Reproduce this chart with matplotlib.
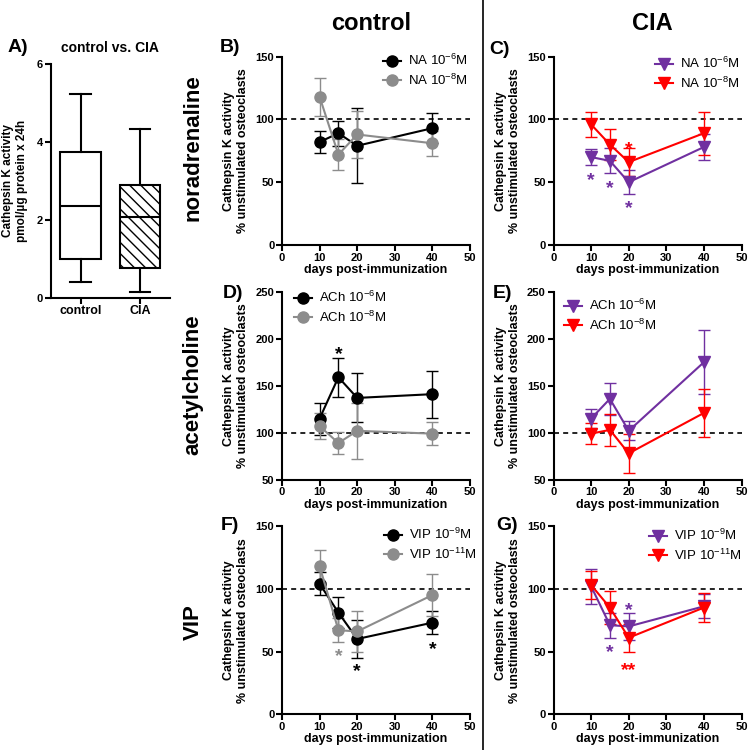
import matplotlib.pyplot as plt
from matplotlib.lines import Line2D
from matplotlib import transforms

plt.rcParams['font.family'] = 'Liberation Sans'
plt.rcParams['font.weight'] = 'bold'
plt.rcParams['axes.labelweight'] = 'bold'
plt.rcParams['mathtext.fontset'] = 'custom'
plt.rcParams['mathtext.rm'] = 'Liberation Sans'
plt.rcParams['mathtext.default'] = 'regular'
plt.rcParams['hatch.linewidth'] = 1.0

W, H = 748, 750
BLACK, GRAY, PURPLE, RED = 'black', '#8c8c8c', '#7030a0', '#ff0000'

days = [10, 15, 20, 40]

# panel A: box plot stats (pmol/ug protein x 24h)
box_groups = ['control', 'CIA']
box_low = [0.41, 0.15]
box_q1 = [1.0, 0.77]
box_med = [2.35, 2.07]
box_q3 = [3.75, 2.89]
box_high = [5.22, 4.34]

# B) noradrenaline, control
na_ctl_6 = [82, 89, 79, 93]
na_ctl_6_err = [9, 10, 30, 12]
na_ctl_8 = [118, 72, 88, 81]
na_ctl_8_err = [15, 12, 19, 10]
# C) noradrenaline, CIA
na_cia_6 = [70, 67, 50, 78]
na_cia_6_err = [6.5, 10, 9.5, 10]
na_cia_8 = [96, 80, 66, 89]
na_cia_8_err = [10, 12.5, 11, 17]
# D) acetylcholine, control
ach_ctl_6 = [115, 159, 137, 141]
ach_ctl_6_err = [17, 21, 26, 25]
ach_ctl_8 = [107, 89, 102, 99]
ach_ctl_8_err = [14, 12, 30, 12.5]
# E) acetylcholine, CIA
ach_cia_6 = [115, 136, 102, 175]
ach_cia_6_err = [10, 17, 10, 34]
ach_cia_8 = [99, 103, 78, 121]
ach_cia_8_err = [11, 17, 21, 26]
# F) VIP, control
vip_ctl_9 = [104, 81, 60, 73]
vip_ctl_9_err = [9, 12.5, 15, 9]
vip_ctl_11 = [118, 67, 66, 95]
vip_ctl_11_err = [13, 9.5, 16, 16.5]
# G) VIP, CIA
vip_cia_9 = [102, 71, 70, 86]
vip_cia_9_err = [14, 10, 10.5, 9.5]
vip_cia_11 = [103, 85, 61, 85]
vip_cia_11_err = [11, 13, 11, 11.5]

# significance marks: (day, level, text, colour)
stars_C = [(10, 56.5, '*', PURPLE), (15, 49.6, '*', PURPLE), (20, 33.7, '*', PURPLE), (20, 81, '*', RED)]
stars_D = [(15, 190, '*', BLACK)]
stars_F = [(15, 51, '*', GRAY), (20, 38.7, '*', BLACK), (40, 56.5, '*', BLACK)]
stars_G = [(15, 54, '*', PURPLE), (20, 87.6, '*', PURPLE), (20, 40, '**', RED)]

fig = plt.figure(figsize=(W / 100, H / 100), dpi=100)


def add_ax(x0, x1, y0, y1):
    # pixel box -> figure fraction
    return fig.add_axes([x0 / W, 1 - y1 / H, (x1 - x0) / W, (y1 - y0) / H])


def style(ax):
    for s in ['top', 'right']:
        ax.spines[s].set_visible(False)
    for s in ['left', 'bottom']:
        ax.spines[s].set_linewidth(1.5)
    ax.tick_params(width=1.5, length=4, labelsize=8, pad=1.5)


def ftext(x, y, s, **kw):
    fig.text(x / W, 1 - y / H, s, ha='center', va='center', **kw)


# ---- panel A
axA = add_ax(50.7, 170, 64, 297.7)
stats = []
for i in range(2):
    stats.append(dict(whislo=box_low[i], q1=box_q1[i], med=box_med[i], q3=box_q3[i],
                      whishi=box_high[i], label=box_groups[i]))
bp = axA.bxp(stats, positions=[0, 1], widths=0.68, patch_artist=True, showfliers=False,
             boxprops=dict(facecolor='white', edgecolor='black', linewidth=1.5),
             medianprops=dict(color='black', linewidth=1.5),
             whiskerprops=dict(linewidth=1.5), capprops=dict(linewidth=1.5))
bp['boxes'][1].set_hatch('\\\\\\')
axA.set_xlim(-0.5, 1.5)
axA.set_ylim(0, 6)
axA.set_yticks([0, 2, 4, 6])
style(axA)
axA.tick_params(axis='x', labelsize=9)
axA.set_ylabel('Cathepsin K activity\npmol/\u00b5g protein x 24h', fontsize=8.5, linespacing=1.2)
axA.yaxis.set_label_coords(-0.19, 0.5)
ftext(110, 48, 'control vs. CIA', fontsize=10)
ftext(18, 48, 'A)', fontsize=14)

# ---- time course panels
panels = [
    dict(box=(282, 470, 56.6, 245), ylim=(0, 150), ticks=[0, 50, 100, 150],
         series=[(na_ctl_6, na_ctl_6_err, 'NA 10$^{-6}$M'), (na_ctl_8, na_ctl_8_err, 'NA 10$^{-8}$M')],
         colors=(BLACK, GRAY), marker='o', leg=(383, 53), stars=[], letter=('B)', 230, 47)),
    dict(box=(553.5, 741.5, 56.6, 245), ylim=(0, 150), ticks=[0, 50, 100, 150],
         series=[(na_cia_6, na_cia_6_err, 'NA 10$^{-6}$M'), (na_cia_8, na_cia_8_err, 'NA 10$^{-8}$M')],
         colors=(PURPLE, RED), marker='v', leg=(655, 56), stars=stars_C, letter=('C)', 500, 50)),
    dict(box=(282, 470, 291.7, 479.7), ylim=(50, 250), ticks=[50, 100, 150, 200, 250],
         series=[(ach_ctl_6, ach_ctl_6_err, 'ACh 10$^{-6}$M'), (ach_ctl_8, ach_ctl_8_err, 'ACh 10$^{-8}$M')],
         colors=(BLACK, GRAY), marker='o', leg=(294, 290), stars=stars_D, letter=('D)', 233, 293)),
    dict(box=(553.5, 741.5, 291.7, 479.7), ylim=(50, 250), ticks=[50, 100, 150, 200, 250],
         series=[(ach_cia_6, ach_cia_6_err, 'ACh 10$^{-6}$M'), (ach_cia_8, ach_cia_8_err, 'ACh 10$^{-8}$M')],
         colors=(PURPLE, RED), marker='v', leg=(564, 298), stars=[], letter=('E)', 503, 293)),
    dict(box=(282, 470, 526, 714.3), ylim=(0, 150), ticks=[0, 50, 100, 150],
         series=[(vip_ctl_9, vip_ctl_9_err, 'VIP 10$^{-9}$M'), (vip_ctl_11, vip_ctl_11_err, 'VIP 10$^{-11}$M')],
         colors=(BLACK, GRAY), marker='o', leg=(384, 527), stars=stars_F, letter=('F)', 230, 525)),
    dict(box=(553.5, 741.5, 526, 714.3), ylim=(0, 150), ticks=[0, 50, 100, 150],
         series=[(vip_cia_9, vip_cia_9_err, 'VIP 10$^{-9}$M'), (vip_cia_11, vip_cia_11_err, 'VIP 10$^{-11}$M')],
         colors=(PURPLE, RED), marker='v', leg=(649, 528), stars=stars_G, letter=('G)', 507, 525)),
]

for p in panels:
    ax = add_ax(*p['box'])
    ax.axhline(100, color='black', ls=(0, (3, 2.5)), lw=1.2, zorder=1)
    handles, labels = [], []
    for (vals, err, lab), c in zip(p['series'], p['colors']):
        ax.errorbar(days, vals, yerr=err, color=c, marker=p['marker'], ms=8, mec=c,
                    lw=1.5, elinewidth=1, capsize=4.5, capthick=1, zorder=3)
        handles.append(Line2D([], [], color=c, marker=p['marker'], ms=8, lw=1.5))
        labels.append(lab)
    ax.set_xlim(0, 50)
    ax.set_xticks([0, 10, 20, 30, 40, 50])
    ax.set_ylim(*p['ylim'])
    ax.set_yticks(p['ticks'])
    style(ax)
    ax.set_xlabel('days post-immunization', fontsize=9, labelpad=1)
    ax.set_ylabel('Cathepsin K activity\n% unstimulated osteoclasts', fontsize=9, linespacing=1.2)
    ax.yaxis.set_label_coords(-0.175, 0.5)
    lx, ly = p['leg']
    ax.legend(handles, labels, loc='upper left', bbox_to_anchor=(lx / W, 1 - ly / H),
              bbox_transform=fig.transFigure, frameon=False, prop={'weight': 'normal', 'size': 9.5},
              handlelength=1.4, handletextpad=0.5, labelspacing=0.35, borderpad=0, borderaxespad=0)
    shift = transforms.offset_copy(ax.transData, fig=fig, y=-4.5, units='points')
    for d, lvl, s, c in p['stars']:
        ax.text(d, lvl, s, color=c, fontsize=14, ha='center', va='center', transform=shift)
    t, x, y = p['letter']
    ftext(x, y, t, fontsize=14)

# column and row headers
ftext(371, 24, 'control', fontsize=17)
ftext(652, 24, 'CIA', fontsize=17)
ftext(193, 148, 'noradrenaline', fontsize=16, rotation=90)
ftext(193, 385, 'acetylcholine', fontsize=16, rotation=90)
ftext(193, 622, 'VIP', fontsize=16, rotation=90)

fig.add_artist(Line2D([483 / W, 483 / W], [0, 1], transform=fig.transFigure, color='black', lw=1.2))

fig.savefig('out.png', dpi=100)
